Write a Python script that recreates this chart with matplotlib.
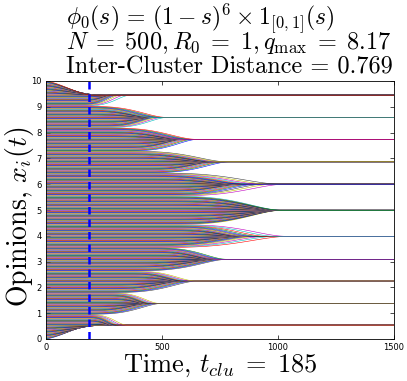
import numpy as np
import matplotlib
matplotlib.use("Agg")
import matplotlib.pyplot as plt
from matplotlib.collections import LineCollection

# values
n_agents = 500
t_clu = 185
t_final = 1500
# final cluster positions (bottom to top)
cluster_pos = np.array([0.54, 1.38, 2.25, 3.09, 3.98, 4.99, 6.0, 6.87, 7.74, 8.59, 9.45])
# time where the dense lens of each cluster ends (tip)
tip_time = np.array([287, 431, 575, 718, 833, 1005, 820, 704, 575, 445, 273])
# time where the last agent reaches the cluster
merge_time = np.array([366, 503, 661, 790, 1068, 1020, 1063, 797, 661, 532, 374])
# colour that ends up on top of each cluster line (index into matlab_colors)
cluster_color = [2, 6, 5, 4, 3, 1, 0, 5, 4, 3, 2]
# where / when neighbouring clusters start to split apart (bottom edge .. top edge)
split_pos = np.array([0.0, 0.96, 1.8, 2.64, 3.54, 4.44, 5.54, 6.45, 7.29, 8.19, 9.03, 10.0])
split_time = np.array([0, 170, 260, 350, 440, 520, 500, 420, 330, 240, 150, 0])
edge_arrive = 190   # outermost agents reach the edge clusters
xticks = [0, 500, 1000, 1500]
yticks = list(range(0, 11))

matlab_colors = [(0, 0, 1), (0, 0.5, 0), (1, 0, 0), (0, 0.75, 0.75),
                 (0.75, 0, 0.75), (0.75, 0.75, 0), (0.25, 0.25, 0.25)]

plt.rcParams['mathtext.fontset'] = 'cm'
plt.rcParams['axes.unicode_minus'] = False

# agent paths: each agent holds its opinion until its cluster splits off,
# then slides into the cluster centre
x0 = np.linspace(0, 10, n_agents)
nc = len(cluster_pos)
k = np.clip(np.searchsorted(split_pos, x0, side='right') - 1, 0, nc - 1)
t = np.linspace(0, t_final, 1001)
paths = []
for i in range(n_agents):
    kk = k[i]
    c = cluster_pos[kk]
    b = kk + 1 if x0[i] >= c else kk
    r = abs(x0[i] - c) / max(abs(split_pos[b] - c), 1e-9)
    ts = split_time[b]
    p_edge = split_time[b] == 0
    if p_edge:
        te = edge_arrive + (tip_time[kk] - edge_arrive) * (1 - r)
    else:
        te = tip_time[kk] + (merge_time[kk] - tip_time[kk]) * r**6
    te = max(te, ts + 20)
    p = np.clip((t - ts) / (te - ts), 0, 1)
    if p_edge:
        p = 0.5 * p + 0.5 * (3 * p**2 - 2 * p**3)
    else:
        q = p**1.8
        p = 3 * q**2 - 2 * q**3
    x = x0[i] + (c - x0[i]) * p
    paths.append((i, kk, np.column_stack([t, x])))

# draw order: one agent of the right colour last in each cluster
last = {}
for i, kk, xy in paths:
    if i % 7 == cluster_color[kk]:
        last[kk] = i
order = [pp for pp in paths if pp[0] not in last.values()] + \
        [pp for pp in paths if pp[0] in last.values()]
segs = [pp[2] for pp in order]
cols = [matlab_colors[pp[0] % 7] for pp in order]

fig = plt.figure(figsize=(4.07, 3.81), dpi=100)
ax = fig.add_axes([46 / 407, 1 - 339 / 381, 348 / 407, 258 / 381])
ax.add_collection(LineCollection(segs, colors=cols, linewidths=0.4))
ax.axvline(t_clu, color='b', linestyle=(0, (3, 2)), linewidth=1.8)
ax.set_xlim(0, t_final)
ax.set_ylim(0, 10)
ax.set_xticks(xticks)
ax.set_yticks(yticks)
ax.tick_params(direction='in', length=3, width=0.5, labelsize=6, top=True, right=True, pad=3)
for s in ax.spines.values():
    s.set_linewidth(0.6)

ax.set_xlabel(r'Time, $t_{clu}\;=\;185$', family='cmr10', fontsize=19, labelpad=0)
fig.text(20 / 407, 1 - 217 / 381, r'Opinions, $x_i(t)$', family='cmr10', fontsize=20,
         rotation=90, ha='center', va='center')

fig.text(66 / 407, 1 - 25 / 381, r'$\phi_0(s)\,=\,(1-s)^6 \times \mathbf{1}_{[0,1]}(s)$', fontsize=17)
fig.text(66 / 407, 1 - 49 / 381, r'$N\;=\;500, R_0\;=\;1, q_{\max}\;=\;8.17$', fontsize=17.5)
fig.text(66 / 407, 1 - 73 / 381, 'Inter-Cluster Distance = 0.769', family='cmr10', fontsize=17.5)

fig.savefig('out.png', dpi=100)
